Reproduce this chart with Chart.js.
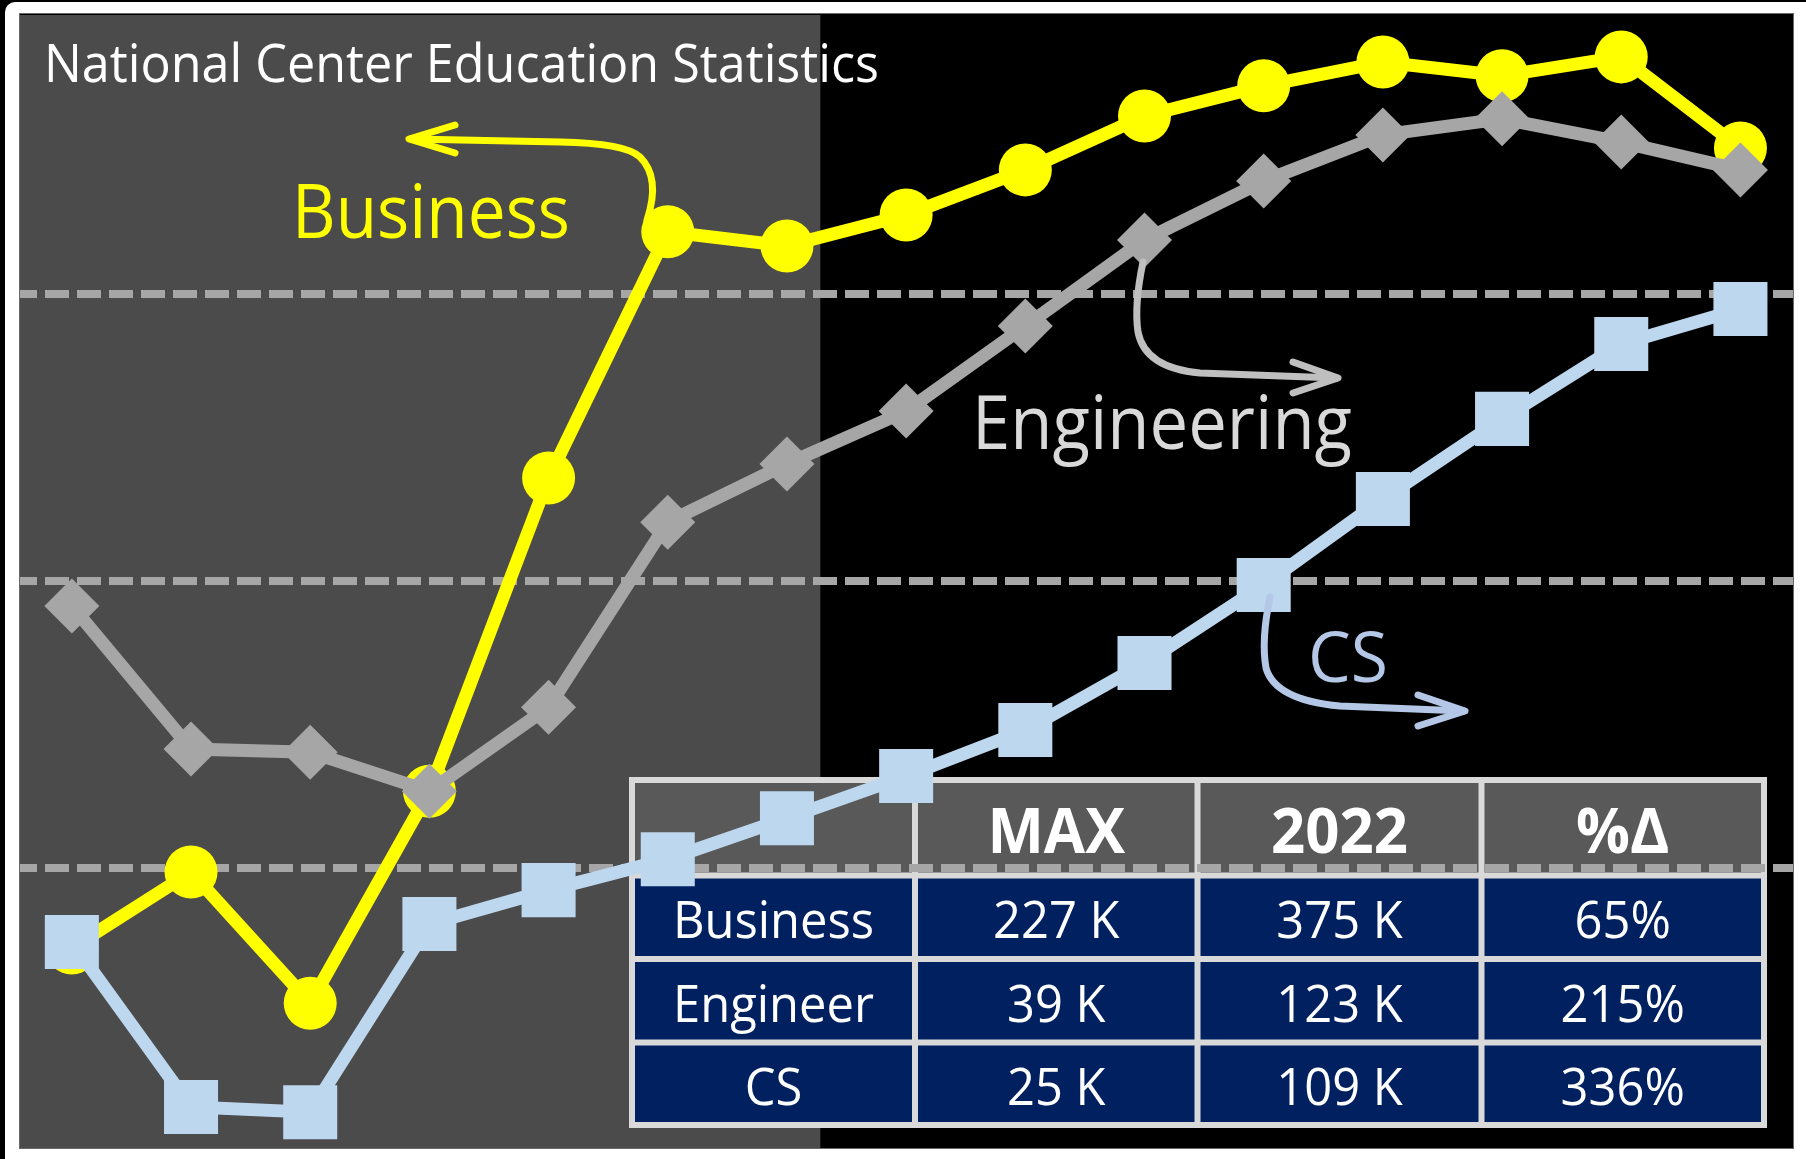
<!DOCTYPE html>
<html>
<head>
<meta charset="utf-8">
<script src="https://cdn.jsdelivr.net/npm/chart.js@4.4.1/dist/chart.umd.min.js"></script>
<style>
html,body{margin:0;padding:0;background:#fff;overflow:hidden}
canvas{display:block}
</style>
</head>
<body>
<canvas id="c" width="1806" height="1159"></canvas>
<script>
// ---------------- data ----------------
const categories = ['P1','P2','P3','P4','P5','P6','P7','P8','P9','P10','P11','P12','P13','P14','P15'];
const business    = [72.1, 98.6, 52.9, 126.8, 236.0, 321.8, 316.9, 327.7, 343.4, 362.2, 372.7, 381.0, 376.2, 382.8, 351.0];
const engineering = [191.4, 141.5, 140.4, 126.8, 156.1, 220.6, 240.9, 259.3, 289.0, 319.0, 339.5, 355.6, 361.2, 353.1, 343.4];
const cs          = [74.2, 16.7, 14.9, 80.5, 92.3, 103.1, 117.4, 132.1, 148.1, 171.5, 198.7, 228.7, 256.6, 282.7, 294.9];
const gridValues  = [100, 200, 300];
const yRange      = [2.4, 397.4];
const xRange      = [-0.435, 14.441];
const shadeEnd    = 6.28;   // shaded period ends between P7 and P8

const titleText   = 'National Center Education Statistics';
const tableHeader = ['', 'MAX', '2022', '%\u0394'];
const tableFields = ['Business', 'Engineer', 'CS'];
const maxValues   = ['227 K', '39 K', '25 K'];
const values2022  = ['375 K', '123 K', '109 K'];
const pctChange   = ['65%', '215%', '336%'];

// ---------------- helpers ----------------
const FONT = '"Open Sans", "Noto Sans", sans-serif';
function fitText(ctx, text, left, baseline, width, size, color, weight) {
  ctx.save();
  ctx.font = (weight || '400') + ' ' + size + 'px ' + FONT;
  const w = ctx.measureText(text).width;
  ctx.translate(left, baseline);
  ctx.scale(width / w, 1);
  ctx.fillStyle = color;
  ctx.textAlign = 'left';
  ctx.textBaseline = 'alphabetic';
  ctx.fillText(text, 0, 0);
  ctx.restore();
}
function centerText(ctx, text, cx, baseline, size, color, weight, sx) {
  ctx.save();
  ctx.font = (weight || '400') + ' ' + size + 'px ' + FONT;
  ctx.fillStyle = color;
  ctx.textAlign = 'center';
  ctx.textBaseline = 'alphabetic';
  ctx.translate(cx, baseline);
  ctx.scale(sx || 1, 1);
  ctx.fillText(text, 0, 0);
  ctx.restore();
}
function drawArrow(ctx, d, tip, w1, w2, color) {
  ctx.save();
  ctx.strokeStyle = color;
  ctx.lineWidth = 7;
  ctx.lineCap = 'round';
  ctx.lineJoin = 'round';
  ctx.stroke(new Path2D(d));
  ctx.beginPath();
  ctx.moveTo(w1[0], w1[1]); ctx.lineTo(tip[0], tip[1]); ctx.lineTo(w2[0], w2[1]);
  ctx.stroke();
  ctx.restore();
}

// ---------------- plugins ----------------
const backgroundPlugin = {
  id: 'backgroundPlugin',
  beforeDraw(chart) {
    const ctx = chart.ctx, a = chart.chartArea;
    ctx.save();
    // page frame
    ctx.fillStyle = '#000';
    ctx.fillRect(0, 0, chart.width, chart.height);
    ctx.fillStyle = '#fff';
    ctx.beginPath();
    ctx.roundRect(5, 2, chart.width + 20, chart.height + 20, 10);
    ctx.fill();
    // plot box
    ctx.fillStyle = '#000';
    ctx.fillRect(a.left - 1, a.top - 2, a.right - a.left + 2, a.bottom - a.top + 3);
    ctx.strokeStyle = '#6a6a6a';
    ctx.lineWidth = 1;
    ctx.strokeRect(a.left - 0.5, a.top - 1.5, a.right - a.left + 1, a.bottom - a.top + 2);
    // shaded period
    const xs = chart.scales.x.getPixelForValue(shadeEnd);
    ctx.fillStyle = '#4b4b4b';
    ctx.fillRect(a.left, a.top, xs - a.left, a.bottom - a.top);

    // summary table
    const cols = [632, 915, 1197.5, 1481.5, 1764];
    const rows = [780, 875.5, 959, 1042.5, 1125];
    ctx.fillStyle = '#595959';
    ctx.fillRect(cols[0], rows[0], cols[4] - cols[0], rows[1] - rows[0]);
    ctx.fillStyle = '#002060';
    ctx.fillRect(cols[0], rows[1], cols[4] - cols[0], rows[4] - rows[1]);
    ctx.strokeStyle = '#d9d9d9';
    ctx.lineWidth = 6;
    ctx.beginPath();
    cols.forEach(x => { ctx.moveTo(x, rows[0]); ctx.lineTo(x, rows[4]); });
    rows.forEach(y => { ctx.moveTo(cols[0] - 3, y); ctx.lineTo(cols[4] + 3, y); });
    ctx.stroke();
    // header
    const hMid = (rows[0] + rows[1]) / 2;
    tableHeader.forEach((t, i) => {
      if (t) centerText(ctx, t, (cols[i] + cols[i + 1]) / 2, hMid + 25, 63, '#fff', '700', 0.95);
    });
    // body
    tableFields.forEach((f, r) => {
      const mid = (rows[r + 1] + rows[r + 2]) / 2;
      const base = mid + 21;
      const cells = [f, maxValues[r], values2022[r], pctChange[r]];
      cells.forEach((t, i) => centerText(ctx, t, (cols[i] + cols[i + 1]) / 2, base, 52, '#fff', '400', 0.94));
    });
    ctx.restore();
  }
};

const annotationPlugin = {
  id: 'annotationPlugin',
  afterDatasetsDraw(chart) {
    const ctx = chart.ctx;
    fitText(ctx, titleText, 44, 82, 835, 53, '#ffffff');
    fitText(ctx, 'Business', 292, 237.5, 278, 75, '#ffff00');
    fitText(ctx, 'Engineering', 972, 449, 380, 75, '#d9d9d9');
    fitText(ctx, 'CS', 1308, 682, 80, 70, '#b4c7e7');

    drawArrow(ctx, 'M647,220 Q661,178 640,157 Q625,143 560,142 L411,139',
      [409, 139], [455, 125], [455, 153], '#ffff00');
    drawArrow(ctx, 'M1143,262 Q1134,305 1138,332 Q1145,368 1200,373 L1336,378',
      [1338, 378], [1293, 362], [1293, 393], '#bfbfbf');
    drawArrow(ctx, 'M1270,597 Q1261,640 1266,668 Q1275,700 1340,706 L1463,711',
      [1465, 711], [1418, 695], [1418, 726], '#b4c7e7');
  }
};

// ---------------- chart ----------------
function toXY(arr) { return arr.map((v, i) => ({ x: i, y: v })); }

function build() {
  new Chart(document.getElementById('c'), {
    type: 'line',
    data: {
      labels: categories,
      datasets: [
        {
          label: 'Business', data: toXY(business), order: 3,
          borderColor: '#ffff00', backgroundColor: '#ffff00', borderWidth: 13,
          pointStyle: 'circle', pointRadius: 26.5, pointBorderWidth: 0,
          pointBackgroundColor: '#ffff00', tension: 0, clip: false
        },
        {
          label: 'Engineering', data: toXY(engineering), order: 2,
          borderColor: '#a6a6a6', backgroundColor: '#a6a6a6', borderWidth: 13,
          pointStyle: 'rectRot', pointRadius: 27.5, pointBorderWidth: 0,
          pointBackgroundColor: '#a6a6a6', tension: 0, clip: false
        },
        {
          label: 'CS', data: toXY(cs), order: 1,
          borderColor: '#bdd7ee', backgroundColor: '#bdd7ee', borderWidth: 13,
          pointStyle: 'rect', pointRadius: 38.2, pointBorderWidth: 0,
          pointBackgroundColor: '#bdd7ee', tension: 0, clip: false
        }
      ]
    },
    options: {
      responsive: false,
      animation: false,
      devicePixelRatio: 1,
      events: [],
      layout: { autoPadding: false, padding: { left: 20, right: 13, top: 15, bottom: 11 } },
      plugins: { legend: { display: false }, tooltip: { enabled: false }, title: { display: false } },
      scales: {
        x: { type: 'linear', min: xRange[0], max: xRange[1], display: false },
        y: {
          type: 'linear', min: yRange[0], max: yRange[1], display: true,
          afterBuildTicks: s => { s.ticks = gridValues.map(v => ({ value: v })); },
          ticks: { display: false },
          grid: { color: '#a6a6a6', lineWidth: 8, drawTicks: false },
          border: { display: false, dash: [24, 8], dashOffset: 7 }
        }
      }
    },
    plugins: [backgroundPlugin, annotationPlugin]
  });
}

const loads = ['400 52px "Open Sans"', '700 63px "Open Sans"'].map(f => document.fonts.load(f).catch(() => null));
Promise.all(loads).then(build, build);
</script>
</body>
</html>
